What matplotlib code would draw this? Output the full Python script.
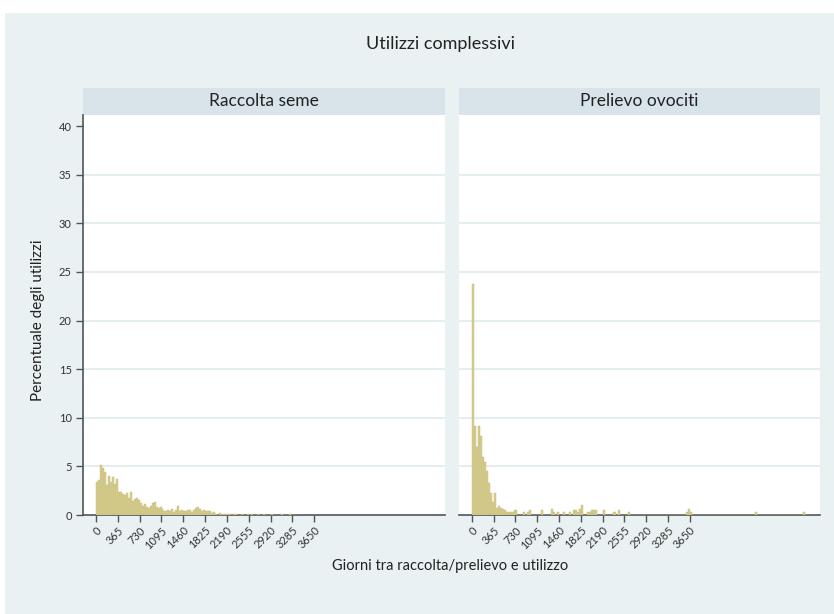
import matplotlib
matplotlib.use('Agg')
import matplotlib.pyplot as plt
import numpy as np

plt.rcParams['font.family'] = ['Lato', 'DejaVu Sans']

# histogram bin width in days
BIN = 33.2

title = 'Utilizzi complessivi'
panels = ['Raccolta seme', 'Prelievo ovociti']
x_ticks = [0, 365, 730, 1095, 1460, 1825, 2190, 2555, 2920, 3285, 3650]
y_ticks = [0, 5, 10, 15, 20, 25, 30, 35, 40]

# percentuale per bin - raccolta seme
seme = [3.4, 3.6, 5.1, 4.8, 4.4, 3.1, 4.0, 3.4, 3.9, 3.2, 3.7,
        2.4, 2.4, 2.2, 2.1, 2.3, 1.7, 2.4, 1.4, 1.6, 1.8, 1.5,
        1.2, 0.9, 1.1, 0.8, 0.7, 0.9, 1.2, 1.3, 0.85, 0.75, 0.8,
        0.6, 0.45, 0.45, 0.5, 0.45, 0.6, 0.35, 0.5, 0.9, 0.45, 0.5,
        0.45, 0.45, 0.55, 0.55, 0.35, 0.5, 0.7, 0.8, 0.6, 0.45, 0.5,
        0.4, 0.45, 0.45, 0.2, 0.35, 0.1, 0.0, 0.25, 0.1, 0.15, 0.1,
        0.1, 0.1, 0.05, 0.1, 0.1, 0.0, 0.05, 0.1, 0.05, 0.0, 0.1,
        0.05, 0.1, 0.0, 0.05, 0.1, 0.05, 0.0, 0.1, 0.05, 0.0, 0.05,
        0.1, 0.05, 0.0, 0.05, 0.0, 0.1, 0.05, 0.0, 0.05, 0.1, 0.0,
        0.05, 0.05]

# percentuale per bin - prelievo ovociti (primi bin)
ovociti_head = [23.8, 9.2, 7.0, 9.2, 8.1, 6.0, 5.5, 4.5, 3.3, 2.3, 1.3,
                2.3, 0.7, 0.9, 0.7, 0.6, 0.5, 0.3, 0.3, 0.3, 0.3]
# coda sparsa: indice del bin e percentuale
ovociti_tail_bin = [21, 22, 26, 28, 29, 35, 40, 41, 43, 46, 49, 51, 52, 53,
                    54, 55, 58, 59, 60, 61, 62, 66, 71, 72, 74, 79, 108,
                    109, 110, 143, 167]
ovociti_tail_pct = [0.5, 0.5, 0.3, 0.3, 0.5, 0.5, 0.6, 0.3, 0.3, 0.3, 0.3,
                    0.5, 0.5, 0.3, 0.6, 1.0, 0.3, 0.3, 0.5, 0.5, 0.5, 0.5,
                    0.3, 0.3, 0.5, 0.3, 0.3, 0.6, 0.3, 0.3, 0.3]

ovociti = np.zeros(170)
ovociti[:len(ovociti_head)] = ovociti_head
ovociti[ovociti_tail_bin] = ovociti_tail_pct

W, H = 834, 614
BG = '#e9f1f3'
STRIP = '#d8e4ea'
BAR = '#d6cc8e'
EDGE = '#c6bb76'
AXIS = '#4f555a'

fig = plt.figure(figsize=(W / 100, H / 100), dpi=100)
fig.patch.set_facecolor('white')
fig.patches.append(plt.Rectangle((5 / W, 0), 1, (H - 13) / H, transform=fig.transFigure,
                                 facecolor=BG, edgecolor='none', zorder=-10))


def px(x0, y0, x1, y1):
    return [x0 / W, 1 - y1 / H, (x1 - x0) / W, (y1 - y0) / H]


fig.text(440 / W, 1 - 44 / H, title, ha='center', va='center', fontsize=13, color='#222222')

boxes = [(83, 445), (459, 820)]
data = [seme, ovociti]
for k, (x0, x1) in enumerate(boxes):
    sax = fig.add_axes(px(x0, 88, x1, 115))
    sax.set_facecolor(STRIP)
    sax.set_xticks([])
    sax.set_yticks([])
    for s in sax.spines.values():
        s.set_visible(False)
    sax.text(0.5, 0.5, panels[k], ha='center', va='center', fontsize=12.5,
             color='#222222', transform=sax.transAxes)

    ax = fig.add_axes(px(x0, 115, x1, 515))
    ax.set_facecolor('white')
    vals = np.asarray(data[k])
    edges = np.arange(len(vals)) * BIN
    ax.bar(edges, vals, width=BIN, align='edge', color=BAR, edgecolor=EDGE,
           linewidth=0.3, zorder=3)
    ax.set_xlim(-217, 5836)
    ax.set_ylim(0, 41.15)
    for g in y_ticks[1:-1]:
        ax.axhline(g, color='#e4edf0', lw=1.5, zorder=1)
    for s in ['top', 'right']:
        ax.spines[s].set_visible(False)
    ax.spines['bottom'].set_color(AXIS)
    ax.spines['bottom'].set_linewidth(1.2)
    ax.set_xticks(x_ticks)
    ax.set_xticklabels([str(t) for t in x_ticks], rotation=45, ha='right',
                       rotation_mode='anchor', fontsize=8, color='#333333')
    ax.tick_params(axis='x', length=5, width=1, color=AXIS, pad=2)
    if k == 0:
        ax.spines['left'].set_color(AXIS)
        ax.spines['left'].set_linewidth(1.2)
        ax.set_yticks(y_ticks)
        ax.set_yticklabels([str(t) for t in y_ticks], fontsize=8, color='#333333')
        ax.tick_params(axis='y', length=5, width=1, color=AXIS, pad=3)
    else:
        ax.spines['left'].set_visible(False)
        ax.set_yticks([])

fig.text(38 / W, 1 - 320 / H, 'Percentuale degli utilizzi', rotation=90,
         ha='center', va='center', fontsize=11, color='#222222')
fig.text(450 / W, 1 - 566 / H, 'Giorni tra raccolta/prelievo e utilizzo',
         ha='center', va='center', fontsize=10.5, color='#222222')

fig.savefig('out.png', dpi=100, facecolor=fig.get_facecolor())
